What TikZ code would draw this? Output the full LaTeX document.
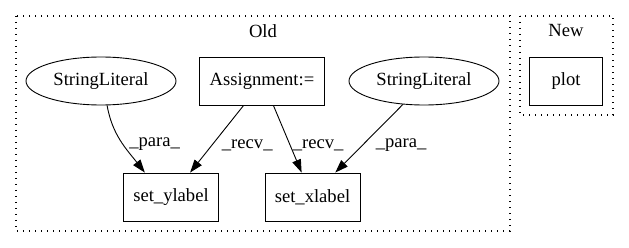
\documentclass[tikz,border=0pt]{standalone}
\usepackage{fontspec}
\setmainfont{Liberation Serif}
\usepackage{tikz}
\usetikzlibrary{shapes}
\usetikzlibrary{arrows.meta}
\newcommand{\gvfont}{\fontsize{18.6pt}{22pt}\selectfont}
\tikzstyle{op}=[draw, rectangle, minimum width=95pt, minimum height=48pt, inner sep=0pt, line width=0.9pt, font=\gvfont]
\tikzstyle{lit}=[draw, ellipse, minimum width=150pt, minimum height=48pt, inner sep=0pt, line width=0.9pt, font=\gvfont]
\tikzstyle{cluster}=[line width=1.3pt, dash pattern=on 1.3pt off 4.7pt]
\tikzstyle{dep}=[-{Triangle[length=13pt,width=9pt]}, line width=0.9pt]
\tikzstyle{lbl}=[right, inner sep=0pt, font=\gvfont]

\begin{document}
\begin{tikzpicture}[x=1pt,y=-1pt]
\useasboundingbox (0,0) rectangle (629,248);
% clusters
\draw[cluster] (16,16) rectangle (510,231);
\draw[cluster] (520,16) rectangle (613,115);
\node[font=\gvfont] (old) at (263,31) {Old};
\node[font=\gvfont] (new) at (566,31) {New};
% nodes
\node[lit] (sl1) at (101,81) {StringLiteral};
\node[op, minimum width=125pt] (asg) at (262,81) {Assignment:=};
\node[lit] (sl2) at (424,81) {StringLiteral};
\node[op] (ylab) at (171,197) {set\_ylabel};
\node[op] (xlab) at (312.5,197) {set\_xlabel};
\node[op, minimum width=73pt] (plot) at (566,81) {plot};
% edges
\draw[dep] (sl1.-76) to[out=-80,in=128] node[lbl, pos=0.55, xshift=6pt] {\_para\_} (ylab.137);
\draw[dep] (asg.-127) -- node[lbl, pos=0.6, xshift=10pt] {\_recv\_} (ylab.52);
\draw[dep] (asg.-65) -- node[lbl, pos=0.6, xshift=2pt] {\_recv\_} (xlab.114);
\draw[dep] (sl2.-132) -- node[lbl, pos=0.6, xshift=13pt] {\_para\_} (xlab.47);
\end{tikzpicture}
\end{document}
